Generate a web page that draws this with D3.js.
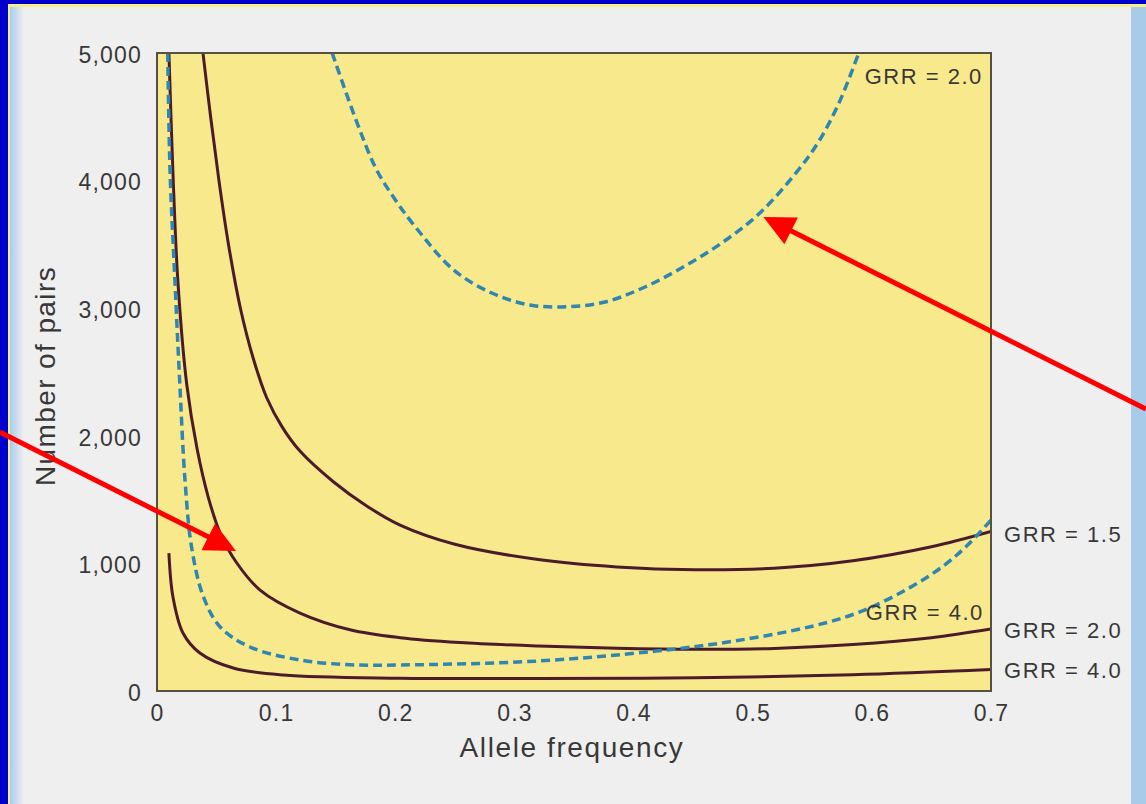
<!DOCTYPE html>
<html>
<head>
<meta charset="utf-8">
<script src="https://cdn.jsdelivr.net/npm/d3@7"></script>
<style>
  html, body { margin: 0; padding: 0; background: #0000cc; }
  svg { display: block; }
  text { font-family: "Liberation Sans", Arial, Helvetica, sans-serif; fill: #383838; }
</style>
</head>
<body>
<div class="js-d3"></div>
<script>
// axis ticks
const xTicks = [0, 0.1, 0.2, 0.3, 0.4, 0.5, 0.6, 0.7];
const yTicks = [0, 1000, 2000, 3000, 4000, 5000];

// solid curves (GRR = 1.5, 2.0, 4.0)
const grr15X = [0.0386, 0.045, 0.052, 0.060, 0.070, 0.081, 0.092, 0.105, 0.12, 0.148, 0.176, 0.204, 0.25, 0.32, 0.386, 0.452, 0.518, 0.584, 0.65, 0.70];
const grr15Y = [5000, 4500, 4000, 3500, 3000, 2600, 2300, 2070, 1880, 1640, 1450, 1300, 1150, 1030, 972, 950, 962, 1020, 1130, 1250];

const grr20X = [0.010, 0.0134, 0.0176, 0.025, 0.0336, 0.043, 0.053, 0.067, 0.0865, 0.12, 0.162, 0.204, 0.254, 0.32, 0.386, 0.452, 0.518, 0.584, 0.65, 0.70];
const grr20Y = [5000, 4060, 3200, 2400, 1900, 1520, 1238, 1003, 791, 611, 480, 418, 380, 353, 336, 328, 334, 364, 418, 486];

const grr40X = [0.010, 0.0134, 0.0218, 0.036, 0.064, 0.106, 0.204, 0.32, 0.452, 0.584, 0.70];
const grr40Y = [1081, 737, 455, 298, 180, 125, 100, 98, 104, 127, 168];

// dashed curves (GRR = 4.0, 2.0)
const dash40X = [0.009, 0.011, 0.015, 0.019, 0.0235, 0.029, 0.039, 0.053, 0.078, 0.12, 0.162, 0.204, 0.32, 0.419, 0.485, 0.551, 0.59, 0.63, 0.66, 0.68, 0.70];
const dash40Y = [5000, 4060, 3221, 2437, 1654, 1128, 737, 502, 345, 243, 206, 204, 235, 313, 392, 510, 620, 800, 980, 1140, 1340];

const dash20X = [0.147, 0.168, 0.184, 0.200, 0.2166, 0.249, 0.281, 0.313, 0.345, 0.377, 0.410, 0.442, 0.474, 0.506, 0.538, 0.555, 0.572, 0.589];
const dash20Y = [5000, 4451, 4090, 3850, 3640, 3300, 3119, 3025, 3012, 3051, 3168, 3325, 3511, 3746, 4080, 4300, 4600, 5000];

// labels and arrows, in data units
const labelText = ["GRR = 2.0", "GRR = 4.0", "GRR = 1.5", "GRR = 2.0", "GRR = 4.0"];
const labelX = [0.594, 0.694, 0.711, 0.711, 0.711];
const labelY = [4760, 560, 1165, 415, 100];
const labelAnchor = ["start", "end", "start", "start", "start"];

const arrowFromX = [-0.132, 0.83];
const arrowFromY = [2030, 2210];
const arrowToX = [0.0663, 0.509];
const arrowToY = [1098, 3715];

const W = 1146;
const H = 804;
const margin = { top: 53, right: 155, bottom: 113, left: 157 };
const w = W - margin.left - margin.right;
const h = H - margin.top - margin.bottom;

const svg = d3
  .select(".js-d3")
  .append("svg")
  .attr("width", W)
  .attr("height", H);

// page frame: blue border, thin yellow rule, grey page, light blue strips
svg.append("rect").attr("width", W).attr("height", H).attr("fill", "#0000cc");
svg.append("rect").attr("x", 8).attr("y", 4).attr("width", W - 8).attr("height", H - 4).attr("fill", "#f4f08a");
svg.append("rect").attr("x", 10).attr("y", 7).attr("width", W - 10).attr("height", H - 7).attr("fill", "#efefef");
const stripGrad = svg.append("defs").append("linearGradient").attr("id", "strip");
stripGrad.append("stop").attr("offset", "0%").attr("stop-color", "#a9cdeb");
stripGrad.append("stop").attr("offset", "100%").attr("stop-color", "#efefef");
svg.append("rect").attr("x", 10).attr("y", 7).attr("width", 14).attr("height", H - 7).attr("fill", "url(#strip)");
svg.append("rect").attr("x", 1131).attr("y", 7).attr("width", 15).attr("height", H - 7).attr("fill", "#a8cbe9");

const g = svg.append("g").attr("transform", `translate(${margin.left}, ${margin.top})`);

const x = d3.scaleLinear().domain([0, 0.7]).range([0, w]);
const y = d3.scaleLinear().domain([0, 5000]).range([h, 0]);

g.append("rect").attr("width", w).attr("height", h).attr("fill", "#f9e98d");

g.append("defs")
  .append("clipPath")
  .attr("id", "plot-clip")
  .append("rect")
  .attr("width", w)
  .attr("height", h);

const line = d3
  .line()
  .x((d) => x(d[0]))
  .y((d) => y(d[1]))
  .curve(d3.curveCatmullRom.alpha(0.5));

const zip = (xs, ys) => xs.map((v, i) => [v, ys[i]]);

const curves = g.append("g").attr("clip-path", "url(#plot-clip)");

[
  [grr15X, grr15Y],
  [grr20X, grr20Y],
  [grr40X, grr40Y],
].forEach(([xs, ys]) => {
  curves
    .append("path")
    .datum(zip(xs, ys))
    .attr("fill", "none")
    .attr("stroke", "#4a1c2b")
    .attr("stroke-width", 3)
    .attr("d", line);
});

[
  [dash40X, dash40Y],
  [dash20X, dash20Y],
].forEach(([xs, ys]) => {
  curves
    .append("path")
    .datum(zip(xs, ys))
    .attr("fill", "none")
    .attr("stroke", "#2f86b0")
    .attr("stroke-width", 3.5)
    .attr("stroke-dasharray", "9,5")
    .attr("d", line);
});

// frame
g.append("rect")
  .attr("width", w)
  .attr("height", h)
  .attr("fill", "none")
  .attr("stroke", "#55523f")
  .attr("stroke-width", 2);

// axes (labels only, no tick marks)
const xAxis = g
  .append("g")
  .attr("transform", `translate(0, ${h})`)
  .call(d3.axisBottom(x).tickValues(xTicks).tickSize(0).tickPadding(14).tickFormat((d) => (d === 0 ? "0" : d3.format(".1f")(d))));
const yAxis = g
  .append("g")
  .call(d3.axisLeft(y).tickValues(yTicks).tickSize(0).tickPadding(15).tickFormat(d3.format(",")));

[xAxis, yAxis].forEach((a) => {
  a.select(".domain").remove();
  a.selectAll("text")
    .style("font-family", '"Liberation Sans", Arial, sans-serif')
    .style("font-size", "23px")
    .style("letter-spacing", "1.2px")
    .attr("fill", "#383838");
});
yAxis.selectAll("text").attr("dy", "0.4em");

g.append("text")
  .attr("x", w / 2 - 2)
  .attr("y", h + 66)
  .attr("text-anchor", "middle")
  .style("font-size", "28px")
  .style("letter-spacing", "1.6px")
  .text("Allele frequency");

g.append("text")
  .attr("transform", `translate(${-102}, ${h / 2 + 4}) rotate(-90)`)
  .attr("text-anchor", "middle")
  .style("font-size", "28px")
  .style("letter-spacing", "1.4px")
  .text("Number of pairs");

// curve labels
labelText.forEach((t, i) => {
  g.append("text")
    .attr("x", x(labelX[i]))
    .attr("y", y(labelY[i]))
    .attr("text-anchor", labelAnchor[i])
    .style("font-size", "22px")
    .style("letter-spacing", "1.5px")
    .text(t);
});

// red arrows
arrowFromX.forEach((fx, i) => {
  const x0 = x(fx);
  const y0 = y(arrowFromY[i]);
  const x1 = x(arrowToX[i]);
  const y1 = y(arrowToY[i]);
  const ang = Math.atan2(y1 - y0, x1 - x0);
  const len = 31;
  const half = 15;
  const bx = x1 - len * Math.cos(ang);
  const by = y1 - len * Math.sin(ang);
  svg.append("g")
    .attr("transform", `translate(${margin.left}, ${margin.top})`)
    .call((a) => {
      a.append("line")
        .attr("x1", x0)
        .attr("y1", y0)
        .attr("x2", bx + 2 * Math.cos(ang))
        .attr("y2", by + 2 * Math.sin(ang))
        .attr("stroke", "#ff0000")
        .attr("stroke-width", 5);
      a.append("polygon")
        .attr("points", [
          [x1, y1],
          [bx - half * Math.sin(ang), by + half * Math.cos(ang)],
          [bx + half * Math.sin(ang), by - half * Math.cos(ang)],
        ].map((p) => p.join(",")).join(" "))
        .attr("fill", "#ff0000");
    });
});
</script>
</body>
</html>
